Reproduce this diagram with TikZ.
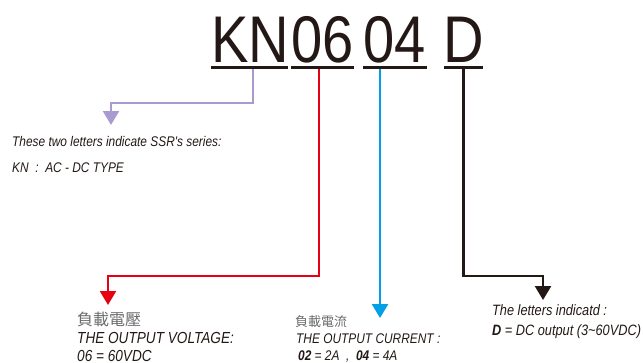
\documentclass[tikz,border=0pt]{standalone}
\usepackage{fontspec}
\setmainfont{Liberation Sans}
\newfontfamily\narrowfont[FakeStretch=0.85]{Liberation Sans}
\newfontfamily\cjkfont{Noto Sans CJK TC}
\usetikzlibrary{arrows.meta, positioning}

\definecolor{seriesc}{HTML}{A99BD1}
\definecolor{voltc}{HTML}{E60012}
\definecolor{currc}{HTML}{00A0E9}
\definecolor{darkc}{HTML}{231815}
\definecolor{cjkgray}{HTML}{6A6A6A}

\begin{document}
\begin{tikzpicture}[x=1pt, y=-1pt,
  code/.style={font=\narrowfont\fontsize{66}{66}\selectfont, anchor=base, inner sep=0pt, text=darkc},
  bar/.style={fill=darkc, inner sep=0pt, minimum height=3pt},
  lead/.style={line width=2.5pt, -{Triangle[width=16pt,length=14pt]}},
  note/.style={font=\narrowfont\itshape\fontsize{#1}{#1}\selectfont, anchor=base west, inner sep=0pt, text=darkc},
  note/.default=14,
  zh/.style={font=\cjkfont\fontsize{#1}{#1}\selectfont, anchor=base west, inner sep=0pt, text=cjkgray}
]
\useasboundingbox (0,0) rectangle (643,362);

% code letters
\node[code] (kn) at (250,62) {KN};
\node[code] (vo) at (322.5,62) {06};
\node[code] (cu) at (394.5,62) {04};
\node[code] (dc) at (464,62) {D};

% underlines
\node[bar, minimum width=77] (knbar) at (249.5,67.5) {};
\node[bar, minimum width=63] (vobar) at (322.5,67.5) {};
\node[bar, minimum width=64] (cubar) at (395,67.5) {};
\node[bar, minimum width=39] (dcbar) at (463.5,67.5) {};

% arrow tips
\coordinate (ssrtip) at (111,125);
\coordinate (volttip) at (108,305);
\coordinate (currtip) at (380,318);
\coordinate (dctip) at (543,300);

% leads
\draw[lead, seriesc] ([xshift=3.5]knbar.south) -- ++(0,34) -| (ssrtip);
\draw[lead, voltc] ([xshift=-3.5]vobar.south) -- ++(0,207) -| (volttip);
\draw[lead, currc] (cubar.south -| currtip) -- (currtip);
\draw[lead, darkc] (dcbar.south) -- ++(0,207) -| (dctip);

% series
\node[note] (ssr) at (12,146.5) {These two letters indicate SSR's series:};
\node[note] (kntype) at (12,172.5) {KN\ \ :\ \ AC - DC TYPE};

% output voltage
\node[zh=16] (voltzh) at (77,325) {負載電壓};
\node[note=16] (volten) at (77,343.5) {THE OUTPUT VOLTAGE:};
\node[note=16] (voltval) at (77,361) {06 = 60VDC};

% output current
\node[zh=13] (currzh) at (295,326) {負載電流};
\node[note] (curren) at (296,343) {THE OUTPUT CURRENT :};
\node[note] (currval) at (298,360) {\bfseries 02\mdseries{} = 2A\ \ ,\ \ \bfseries 04\mdseries{} = 4A};

% dc output
\node[note=15] (dcnote) at (492,315.5) {The letters indicatd :};
\node[note=15] (dcval) at (492,335) {\bfseries D\mdseries{} = DC output (3\textasciitilde 60VDC)};
\end{tikzpicture}
\end{document}
